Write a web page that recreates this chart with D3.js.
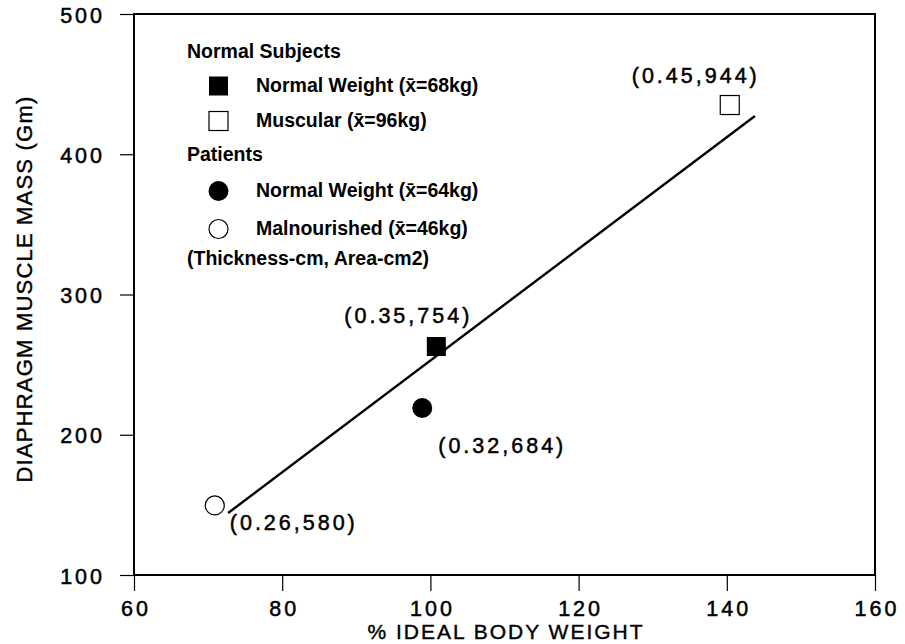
<!DOCTYPE html>
<html>
<head>
<meta charset="utf-8">
<script src="https://cdn.jsdelivr.net/npm/d3@7/dist/d3.min.js"></script>
<style>
  html, body { margin: 0; padding: 0; background: #fff; }
  svg { display: block; }
  text { font-family: "Liberation Sans", Arial, Helvetica, sans-serif; fill: #000; }
</style>
</head>
<body>
<svg id="chart" width="905" height="644"></svg>
<script>
// ---- data ----
const xTicks = [60, 80, 100, 120, 140, 160];
const yTicks = [100, 200, 300, 400, 500];
const seriesNames = ["Normal Weight (x\u0304=68kg)", "Muscular (x\u0304=96kg)", "Normal Weight (x\u0304=64kg)", "Malnourished (x\u0304=46kg)"];
const seriesGroups = ["Normal Subjects", "Normal Subjects", "Patients", "Patients"];
const seriesShapes = ["square", "square", "circle", "circle"];
const seriesFilled = [true, false, true, false];
const ibwValues = [100.8, 140.4, 98.9, 70.9];      // % ideal body weight
const massValues = [262.9, 435.1, 219.1, 149.6];   // diaphragm muscle mass (Gm)
const pointLabels = ["(0.35,754)", "(0.45,944)", "(0.32,684)", "(0.26,580)"];
const fitLineX = [72.7, 143.8];
const fitLineY = [144.2, 427.3];
const legendNote = "(Thickness-cm, Area-cm2)";

// ---- layout ----
const svg = d3.select("#chart");
const m = { left: 134, right: 875, top: 14, bottom: 575 };
const x = d3.scaleLinear().domain([60, 160]).range([m.left, m.right]);
const y = d3.scaleLinear().domain([100, 500]).range([m.bottom, m.top]);

// frame
svg.append("rect")
  .attr("x", m.left).attr("y", m.top)
  .attr("width", m.right - m.left).attr("height", m.bottom - m.top)
  .attr("fill", "none").attr("stroke", "#000").attr("stroke-width", 2);

// axes
const xAxis = svg.append("g").attr("transform", `translate(0,${m.bottom})`)
  .call(d3.axisBottom(x).tickValues(xTicks).tickSize(16).tickPadding(10).tickFormat(d3.format("d")));
const yAxis = svg.append("g").attr("transform", `translate(${m.left},0)`)
  .call(d3.axisLeft(y).tickValues(yTicks).tickSize(14).tickPadding(18).tickFormat(d3.format("d")));
[xAxis, yAxis].forEach(g => {
  g.select(".domain").remove();
  g.selectAll(".tick line").attr("stroke", "#000").attr("stroke-width", 1.2);
  g.selectAll(".tick text").attr("fill", "#000")
    .attr("stroke", "#000").attr("stroke-width", 0.5)
    .style("font-size", "21.5px").style("letter-spacing", "3px")
    .style("font-family", "'Liberation Sans', Arial, sans-serif");
});
xAxis.selectAll(".tick text").attr("dy", "0.71em").attr("dx", "1.5px");
yAxis.selectAll(".tick text").attr("dy", "0.38em").attr("dx", "3px");

// axis titles
svg.append("text")
  .attr("x", 506).attr("y", 639).attr("text-anchor", "middle")
  .attr("stroke", "#000").attr("stroke-width", 0.4)
  .style("font-size", "21px").style("letter-spacing", "2px")
  .text("% IDEAL BODY WEIGHT");
svg.append("text")
  .attr("transform", `translate(32,${289}) rotate(-90)`)
  .attr("text-anchor", "middle")
  .attr("stroke", "#000").attr("stroke-width", 0.4)
  .style("font-size", "22px").style("letter-spacing", "1.2px")
  .text("DIAPHRAGM MUSCLE MASS (Gm)");

// regression line
svg.append("line")
  .attr("x1", x(fitLineX[0])).attr("y1", y(fitLineY[0]))
  .attr("x2", x(fitLineX[1])).attr("y2", y(fitLineY[1]))
  .attr("stroke", "#000").attr("stroke-width", 2.4);

// markers
function drawMarker(g, shape, filled, cx, cy) {
  if (shape === "square") {
    g.append("rect").attr("x", cx - 9.5).attr("y", cy - 9.5).attr("width", 19).attr("height", 19)
      .attr("fill", filled ? "#000" : "#fff").attr("stroke", "#000").attr("stroke-width", filled ? 0 : 1.2);
  } else {
    g.append("circle").attr("cx", cx).attr("cy", cy).attr("r", filled ? 10 : 9.5)
      .attr("fill", filled ? "#000" : "#fff").attr("stroke", "#000").attr("stroke-width", filled ? 0 : 1.2);
  }
}
const pts = svg.append("g");
const labelOffsets = [[-92, -24], [-98, -22], [16, 45], [15, 25]];
ibwValues.forEach((v, i) => {
  const cx = x(v), cy = y(massValues[i]);
  drawMarker(pts, seriesShapes[i], seriesFilled[i], cx, cy);
  pts.append("text")
    .attr("x", cx + labelOffsets[i][0]).attr("y", cy + labelOffsets[i][1])
    .attr("stroke", "#000").attr("stroke-width", 0.5)
    .style("font-size", "21.5px").style("letter-spacing", "3px")
    .text(pointLabels[i]);
});

// legend
const lg = svg.append("g").style("font-weight", "bold").style("font-size", "19.5px");
const groups = Array.from(new Set(seriesGroups));
const rowY = [92, 127, 197, 235];
const headY = [58, 161];
groups.forEach((gname, gi) => {
  lg.append("text").attr("x", 187).attr("y", headY[gi]).text(gname);
});
seriesNames.forEach((name, i) => {
  drawMarker(lg, seriesShapes[i], seriesFilled[i], 218.5, rowY[i] - 6);
  lg.append("text").attr("x", 256).attr("y", rowY[i]).text(name);
});
lg.append("text").attr("x", 187).attr("y", 265).text(legendNote);
</script>
</body>
</html>
